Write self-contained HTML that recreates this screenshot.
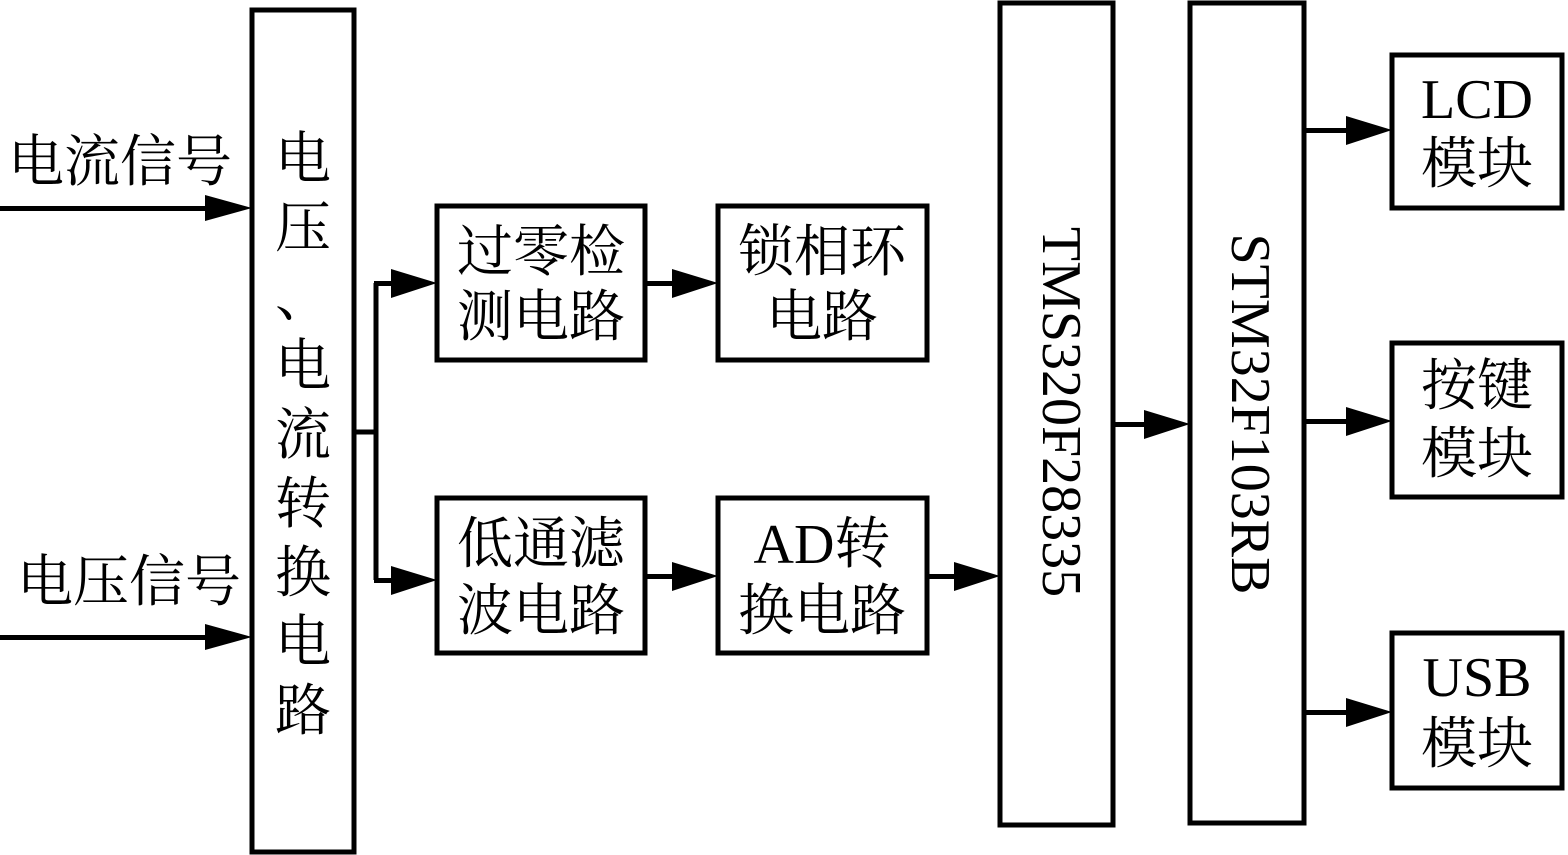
<!DOCTYPE html>
<html><head><meta charset="utf-8"><style>
html,body{margin:0;padding:0;background:#fff;}
svg{display:block;}
text{font-family:"Liberation Serif","Noto Serif CJK SC",serif;font-size:56px;fill:#000;}
</style></head><body>
<svg width="1568" height="855" viewBox="0 0 1568 855" xmlns="http://www.w3.org/2000/svg">
<defs>
<marker id="a" markerWidth="10" markerHeight="10" refX="10" refY="5" orient="auto" markerUnits="userSpaceOnUse" viewBox="0 0 10 10" style="overflow:visible">
<path d="M-36,-9 L10,5 L-36,19 Z" fill="#000" transform="translate(0,-0)"/>
</marker>
</defs>
<g fill="none" stroke="#000" stroke-width="5">
<rect x="252" y="10" width="102" height="842"/>
<rect x="437" y="206" width="208" height="154"/>
<rect x="718" y="206" width="209" height="154"/>
<rect x="437" y="498" width="208" height="155"/>
<rect x="718" y="498" width="209" height="155"/>
<rect x="1000" y="3" width="113" height="822"/>
<rect x="1190" y="3" width="114" height="820"/>
<rect x="1392" y="55" width="170" height="153"/>
<rect x="1392" y="343" width="170" height="154"/>
<rect x="1392" y="633" width="170" height="155"/>
<polyline points="354,432 376,432"/>
<polyline points="376,283 376,580"/>
</g>
<g fill="#000">
<!-- arrows: line + head -->
<rect x="0" y="206" width="210" height="5"/><polygon points="205,195 252,208 205,221"/>
<rect x="0" y="635" width="210" height="5"/><polygon points="205,624 252,637 205,650"/>
<rect x="374" y="281" width="25" height="5"/><polygon points="391,269 437,283 391,298"/>
<rect x="374" y="578" width="25" height="5"/><polygon points="391,566 437,580 391,595"/>
<rect x="645" y="281" width="30" height="5"/><polygon points="672,269 718,283 672,298"/>
<rect x="645" y="574" width="30" height="5"/><polygon points="672,562 718,576 672,591"/>
<rect x="927" y="574" width="30" height="5"/><polygon points="954,562 1000,576 954,591"/>
<rect x="1113" y="422" width="35" height="5"/><polygon points="1144,410 1190,424 1144,439"/>
<rect x="1304" y="128" width="50" height="5"/><polygon points="1346,116 1392,130 1346,145"/>
<rect x="1304" y="419" width="50" height="5"/><polygon points="1346,407 1392,421 1346,436"/>
<rect x="1304" y="710" width="50" height="5"/><polygon points="1346,698 1392,712 1346,727"/>
</g>
<g dominant-baseline="central" text-anchor="middle">
<text x="120" y="163">电流信号</text>
<text x="129" y="583">电压信号</text>
<text x="303" y="160">电</text>
<text x="303" y="229">压</text>
<text x="303" y="298">、</text>
<text x="303" y="367">电</text>
<text x="303" y="436">流</text>
<text x="303" y="505">转</text>
<text x="303" y="574">换</text>
<text x="303" y="643">电</text>
<text x="303" y="712">路</text>
<text x="541" y="253">过零检</text>
<text x="541" y="318">测电路</text>
<text x="822" y="253">锁相环</text>
<text x="822" y="318">电路</text>
<text x="541" y="545">低通滤</text>
<text x="541" y="612">波电路</text>
<text x="822" y="545">AD转</text>
<text x="822" y="612">换电路</text>
<text x="1477" y="100">LCD</text>
<text x="1477" y="165">模块</text>
<text x="1477" y="387">按键</text>
<text x="1477" y="455">模块</text>
<text x="1477" y="678">USB</text>
<text x="1477" y="745">模块</text>
<text x="0" y="0" font-size="57" transform="translate(1061,412) rotate(90)">TMS320F28335</text>
<text x="0" y="0" font-size="57" transform="translate(1250,414) rotate(90)">STM32F103RB</text>
</g>
</svg>
</body></html>
